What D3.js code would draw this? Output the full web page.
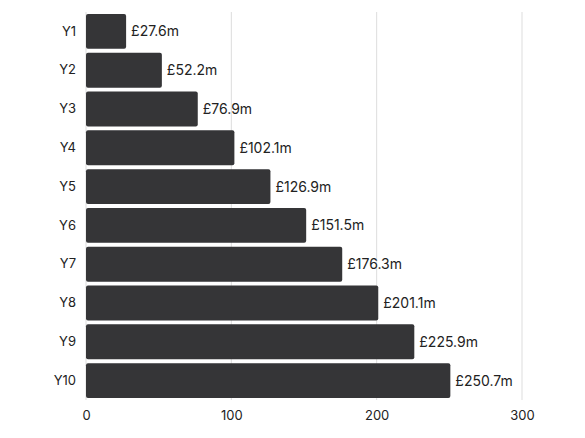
<!DOCTYPE html>
<html>
<head>
<meta charset="utf-8">
<script src="https://cdn.jsdelivr.net/npm/d3@7"></script>
<style>
  body { margin: 0; background: #fff; }
  text { font-family: Inter, "Noto Sans", sans-serif; fill: #222; }
</style>
</head>
<body>
<div id="chart"></div>
<script>
// horizontal bar chart, annual values
const years = ["Y1", "Y2", "Y3", "Y4", "Y5", "Y6", "Y7", "Y8", "Y9", "Y10"];
const amounts = [27.6, 52.2, 76.9, 102.1, 126.9, 151.5, 176.3, 201.1, 225.9, 250.7];
const xTicks = [0, 100, 200, 300];

const width = 585, height = 438;
const margin = { top: 12, right: 63, bottom: 38, left: 86 };

const svg = d3.select("#chart").append("svg")
  .attr("width", width)
  .attr("height", height);

const x = d3.scaleLinear()
  .domain([0, 300])
  .range([margin.left, width - margin.right]);

const y = d3.scaleBand()
  .domain(years)
  .range([margin.top, height - margin.bottom])
  .paddingInner(0.1)
  .paddingOuter(0.05);

// gridlines
svg.append("g")
  .selectAll("line")
  .data(xTicks)
  .join("line")
  .attr("x1", d => x(d))
  .attr("x2", d => x(d))
  .attr("y1", margin.top)
  .attr("y2", height - margin.bottom)
  .attr("stroke", "#ddd")
  .attr("stroke-width", 1);

// bars
svg.append("g")
  .selectAll("rect")
  .data(years)
  .join("rect")
  .attr("x", x(0))
  .attr("y", d => y(d))
  .attr("width", (d, i) => x(amounts[i]) - x(0))
  .attr("height", y.bandwidth())
  .attr("rx", 2)
  .attr("fill", "#353537");

// value labels
svg.append("g")
  .selectAll("text")
  .data(years)
  .join("text")
  .attr("x", (d, i) => x(amounts[i]) + 5)
  .attr("y", d => y(d) + y.bandwidth() / 2)
  .attr("dy", "0.35em")
  .attr("font-size", 14)
  .text((d, i) => `£${amounts[i].toFixed(1)}m`);

// y axis labels
const yAxis = svg.append("g")
  .attr("transform", `translate(${margin.left},0)`)
  .call(d3.axisLeft(y).tickSize(0).tickPadding(10));
yAxis.select(".domain").remove();
yAxis.selectAll("text").attr("font-size", 13).style("font-family", "Inter, sans-serif").attr("fill", "#222");

// x axis labels
const xAxis = svg.append("g")
  .attr("transform", `translate(0,${height - margin.bottom})`)
  .call(d3.axisBottom(x).tickValues(xTicks).tickSize(0).tickPadding(11));
xAxis.select(".domain").remove();
xAxis.selectAll("text").attr("font-size", 13).style("font-family", "Inter, sans-serif").attr("fill", "#222");
</script>
</body>
</html>
